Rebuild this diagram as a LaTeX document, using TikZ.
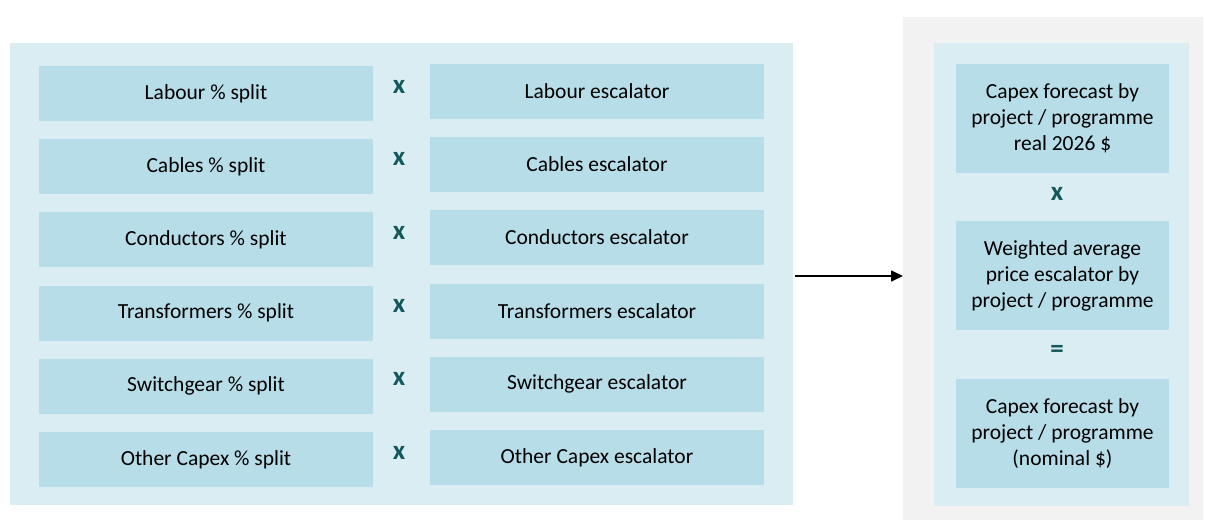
\documentclass[tikz,border=0pt]{standalone}
\usepackage{fontspec}
\setmainfont{Carlito}
\usetikzlibrary{arrows.meta}
\definecolor{panel}{HTML}{DAEDF3}
\definecolor{boxc}{HTML}{B7DDE8}
\definecolor{grayp}{HTML}{F2F2F2}
\definecolor{teal}{HTML}{15585B}
\begin{document}
\begin{tikzpicture}[x=1pt,y=-1pt,
  every node/.style={inner sep=0pt,outer sep=0pt},
  panelbox/.style={fill=panel,draw=none},
  rowbox/.style={fill=boxc,minimum width=334pt,minimum height=55pt,font=\fontsize{21.5}{26}\selectfont},
  resbox/.style={fill=boxc,minimum width=213pt,minimum height=109pt,align=center,font=\fontsize{21.5}{26}\selectfont},
  opsym/.style={text=teal,font=\fontsize{27}{28}\selectfont\bfseries}]
\useasboundingbox (0,0) rectangle (1205,520);
\node[panelbox,minimum width=783pt,minimum height=462pt] (lp) at (401.5,274) {};
\node[fill=grayp,minimum width=300pt,minimum height=503pt] (gp) at (1053,268.5) {};
\node[panelbox,minimum width=255pt,minimum height=463pt] (rp) at (1061.5,274.5) {};
% left rows
\node[rowbox] (l1) at (206,93.5) {Labour \% split};
\node[rowbox] (l2) at (206,166.5) {Cables \% split};
\node[rowbox] (l3) at (206,239.5) {Conductors \% split};
\node[rowbox] (l4) at (206,313) {Transformers \% split};
\node[rowbox] (l5) at (206,386) {Switchgear \% split};
\node[rowbox] (l6) at (206,459.5) {Other Capex \% split};
\node[rowbox] (r1) at (597,91.5) {Labour escalator};
\node[rowbox] (r2) at (597,164.5) {Cables escalator};
\node[rowbox] (r3) at (597,237.5) {Conductors escalator};
\node[rowbox] (r4) at (597,311) {Transformers escalator};
\node[rowbox] (r5) at (597,384) {Switchgear escalator};
\node[rowbox] (r6) at (597,457.5) {Other Capex escalator};
\node[opsym] (x1) at (399,87) {x};
\node[opsym] (x2) at (399,159) {x};
\node[opsym] (x3) at (399,233) {x};
\node[opsym] (x4) at (399,306) {x};
\node[opsym] (x5) at (399,379) {x};
\node[opsym] (x6) at (399,453) {x};
% right column
\node[resbox] (c1) at (1062.5,118.5) {Capex forecast by\\project / programme\\real 2026 \$};
\node[opsym] (xr) at (1057,194) {x};
\node[resbox] (c2) at (1062.5,275.5) {Weighted average\\price escalator by\\project / programme};
\node[opsym] (eq) at (1057,351) {=};
\node[resbox] (c3) at (1062.5,433.5) {Capex forecast by\\project / programme\\(nominal \$)};
% arrow
\draw[line width=1.6pt,-{Triangle[length=12pt,width=11pt]}] ([xshift=2pt,yshift=-2pt]lp.east) -- ([yshift=-2pt]lp.east -| gp.west);
\end{tikzpicture}
\end{document}
